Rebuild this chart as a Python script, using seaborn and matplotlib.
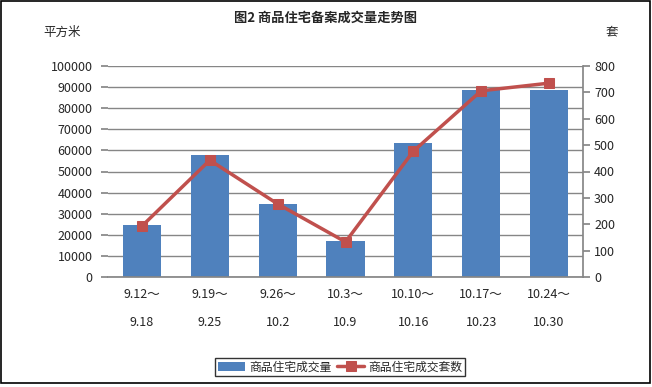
import matplotlib
matplotlib.use("Agg")
import matplotlib.pyplot as plt
import seaborn as sns
import pandas as pd
from matplotlib.patches import Rectangle

categories = ["9.12～\n\n9.18", "9.19～\n\n9.25", "9.26～\n\n10.2", "10.3～\n\n10.9",
              "10.10～\n\n10.16", "10.17～\n\n10.23", "10.24～\n\n10.30"]
area = [24600, 57800, 34600, 17000, 63500, 88800, 88600]
units = [193, 443, 277, 133, 477, 706, 735]
bar_label = "商品住宅成交量"
line_label = "商品住宅成交套数"
title = "图2 商品住宅备案成交量走势图"

sns.set_theme(style="white")
plt.rcParams['font.family'] = ['Noto Sans CJK SC', 'DejaVu Sans']

df = pd.DataFrame({"cat": categories, "area": area, "units": units})

fig = plt.figure(figsize=(6.52, 3.87), dpi=100)
ax = fig.add_axes([108/652, 1-277/387, (583-108)/652, (277-66)/387])

grid_c = "#868686"
sns.barplot(data=df, x="cat", y="area", color="#4F81BD", saturation=1, width=0.56,
            ax=ax, label=bar_label, zorder=2, linewidth=0, edgecolor="none")
ax.set_ylim(0, 100000)
ax.set_yticks(range(0, 100001, 10000))
ax.yaxis.grid(True, color=grid_c, lw=1, zorder=0)
ax.set_axisbelow(True)
ax.set_xlabel("")
ax.set_ylabel("")
ax.set_xlim(-0.5, 6.5)

ax2 = ax.twinx()
sns.lineplot(data=df, x="cat", y="units", color="#C0504D", lw=2.5, marker="s",
             markersize=7, markeredgecolor="#C0504D", ax=ax2, label=line_label, sort=False, zorder=3)
ax2.set_ylim(0, 800)
ax2.set_yticks(range(0, 801, 100))
ax2.set_ylabel("")
ax2.set_xlabel("")
if ax2.get_legend():
    ax2.get_legend().remove()

for a in (ax, ax2):
    for s in ("top", "left", "right"):
        a.spines[s].set_visible(False)
    a.spines["bottom"].set_color(grid_c)
ax2.spines["right"].set_visible(True)
ax2.spines["right"].set_color(grid_c)
ax2.spines["bottom"].set_visible(False)

ax.tick_params(axis="y", length=5, color=grid_c, labelsize=9, pad=6, left=True)
ax2.tick_params(axis="y", length=5, color=grid_c, labelsize=9, pad=3, right=True)
ax.tick_params(axis="x", length=0, labelsize=9, pad=8)
for lab in ax.get_xticklabels():
    lab.set_linespacing(1.1)

fig.text(326/652, 1-18/387, title, ha="center", va="center", fontsize=9.5, fontweight="bold")
fig.text(62/652, 1-32/387, "平方米", ha="center", va="center", fontsize=9)
fig.text(612/652, 1-32/387, "套", ha="center", va="center", fontsize=9)

h1, l1 = ax.get_legend_handles_labels()
h2, l2 = ax2.get_legend_handles_labels()
leg = fig.legend(h1 + h2, l1 + l2, loc="center", bbox_to_anchor=(340/652, 1-367/387),
                 ncol=2, frameon=True, fontsize=8.5, fancybox=False, edgecolor="black",
                 handlelength=2.3, handletextpad=0.3, columnspacing=0.5,
                 borderpad=0.25, borderaxespad=0)
leg.get_frame().set_linewidth(1)
if ax.get_legend():
    ax.get_legend().remove()

fig.patches.append(Rectangle((1/652, 4/387), 649/652, 382/387, transform=fig.transFigure,
                             fill=False, edgecolor="black", lw=1.2))

fig.savefig("out.png", dpi=100)
